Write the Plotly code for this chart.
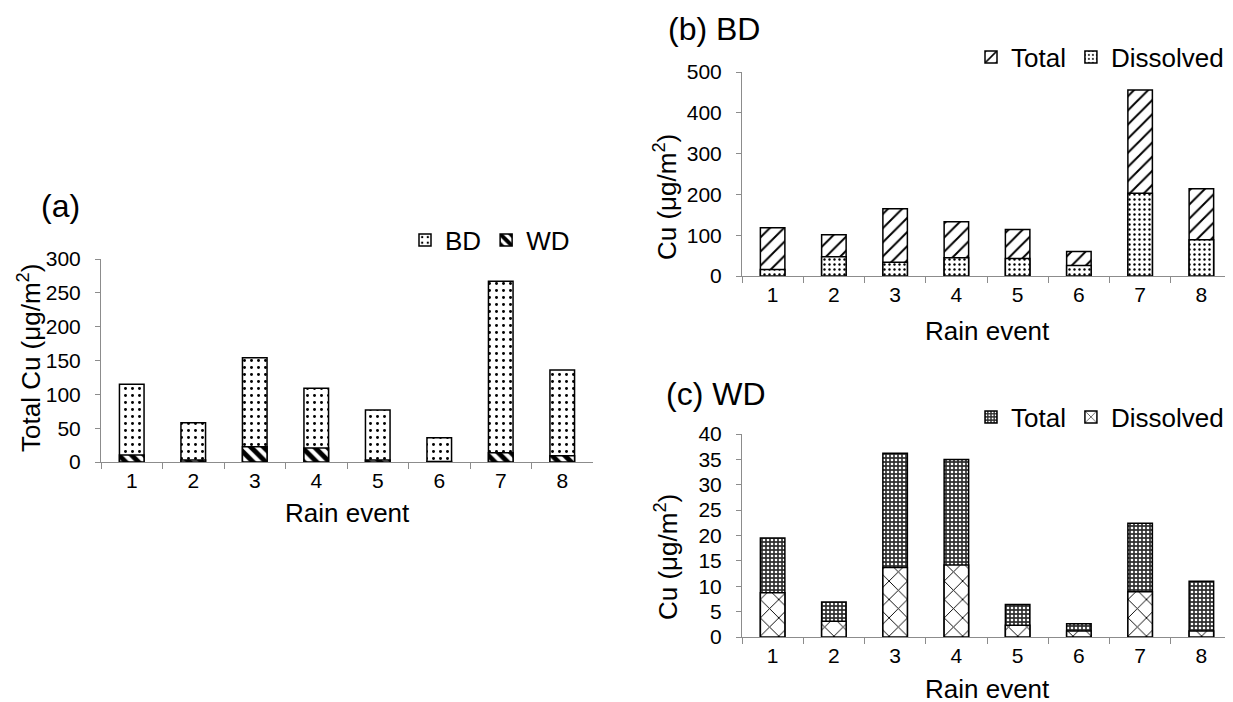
import plotly.graph_objects as go

# ---------------- data ----------------
events = ["1", "2", "3", "4", "5", "6", "7", "8"]

# (a) total Cu by deposition type
a_bd = [115, 58, 154, 109, 77, 36, 267, 136]
a_wd = [10.3, 3.0, 22.6, 20.7, 3.0, 0.8, 13.8, 9.3]

# (b) BD
b_total = [118.5, 101, 165, 133, 114, 60, 456, 214]
b_dissolved = [16, 47, 34, 45, 43, 26, 203, 89]

# (c) WD
c_total = [19.5, 6.9, 36.2, 35.0, 6.4, 2.6, 22.4, 11.0]
c_dissolved = [8.7, 3.1, 13.7, 14.2, 2.3, 1.2, 8.9, 1.2]

W, H = 1233, 702
OFF = 8  # page body margin compensation
FONT = "Liberation Sans, Arial, sans-serif"


def px(x):
    return (x - OFF) / W


def py(y):
    return 1 - (y - OFF) / H


def bar(x, y, name, xa, ya, leg, pattern):
    return go.Bar(
        x=x, y=y, name=name, xaxis=xa, yaxis=ya, legend=leg,
        marker=dict(color="white", line=dict(color="black", width=1.5),
                    pattern=pattern),
    )


fig = go.Figure()
fig.add_trace(bar(events, a_bd, "BD", "x", "y", "legend",
                  dict(shape=".", fgcolor="black", bgcolor="white", size=7, solidity=0.14)))
fig.add_trace(bar(events, a_wd, "WD", "x", "y", "legend",
                  dict(shape="\\", fgcolor="black", bgcolor="white", size=9, solidity=0.55)))
fig.add_trace(bar(events, b_total, "Total", "x2", "y2", "legend2",
                  dict(shape="/", fgcolor="black", bgcolor="white", size=10, solidity=0.2)))
fig.add_trace(bar(events, b_dissolved, "Dissolved", "x2", "y2", "legend2",
                  dict(shape=".", fgcolor="black", bgcolor="white", size=5, solidity=0.18)))
fig.add_trace(bar(events, c_total, "Total", "x3", "y3", "legend3",
                  dict(shape=".", fgcolor="white", bgcolor="#303030", size=4, solidity=0.35)))
fig.add_trace(bar(events, c_dissolved, "Dissolved", "x3", "y3", "legend3",
                  dict(shape="x", fgcolor="black", bgcolor="white", size=13, solidity=0.14)))

AX = "#8c8c8c"
xcommon = dict(type="category", showline=True, linecolor=AX, linewidth=1,
               ticks="outside", tickson="boundaries", ticklen=6, tickcolor=AX,
               tickfont=dict(size=21, color="black"), showgrid=False,
               zeroline=False, automargin=False, fixedrange=True)
ycommon = dict(showline=True, linecolor=AX, linewidth=1, ticks="outside",
               ticklen=5, tickcolor=AX, tickfont=dict(size=21, color="black"),
               showgrid=False, zeroline=False, ticklabelstandoff=10,
               automargin=False, fixedrange=True)

legcommon = dict(orientation="h", xanchor="left", yanchor="middle",
                 font=dict(size=26, color="black"), bgcolor="rgba(0,0,0,0)")

fig.update_layout(
    template="none",
    width=W, height=H,
    margin=dict(l=0, r=0, t=0, b=0, autoexpand=False),
    paper_bgcolor="white", plot_bgcolor="white",
    font=dict(family=FONT, color="black"),
    barmode="overlay", bargap=0.6,
    xaxis=dict(domain=[px(101), px(593)], anchor="y", **xcommon),
    yaxis=dict(domain=[py(462), py(259)], anchor="x", range=[0, 300], dtick=50, **ycommon),
    xaxis2=dict(domain=[px(742), px(1232)], anchor="y2", **xcommon),
    yaxis2=dict(domain=[py(276), py(72)], anchor="x2", range=[0, 500], dtick=100, **ycommon),
    xaxis3=dict(domain=[px(742), px(1232)], anchor="y3", **xcommon),
    yaxis3=dict(domain=[py(637), py(434)], anchor="x3", range=[0, 40], dtick=5, **ycommon),
    legend=dict(x=px(405), y=py(240), **legcommon),
    legend2=dict(x=px(971), y=py(57), **legcommon),
    legend3=dict(x=px(971), y=py(417), **legcommon),
)

ann = []


def text(x, y, s, size, angle=0):
    ann.append(dict(x=px(x), y=py(y), xref="paper", yref="paper", text=s,
                    showarrow=False, textangle=angle, xanchor="center",
                    yanchor="middle", font=dict(size=size, color="black")))


text(60, 206, "(a)", 32)
text(714, 29, "(b) BD", 32)
text(716, 394, "(c) WD", 32)
text(347, 513, "Rain event", 26)
text(987, 331, "Rain event", 26)
text(987, 689, "Rain event", 26)
text(29, 358, "Total Cu (μg/m<sup>2</sup>)", 26, -90)
text(666, 197, "Cu (μg/m<sup>2</sup>)", 26, -90)
text(666, 557, "Cu (μg/m<sup>2</sup>)", 26, -90)
fig.update_layout(annotations=ann)

fig.write_html("out.html")
